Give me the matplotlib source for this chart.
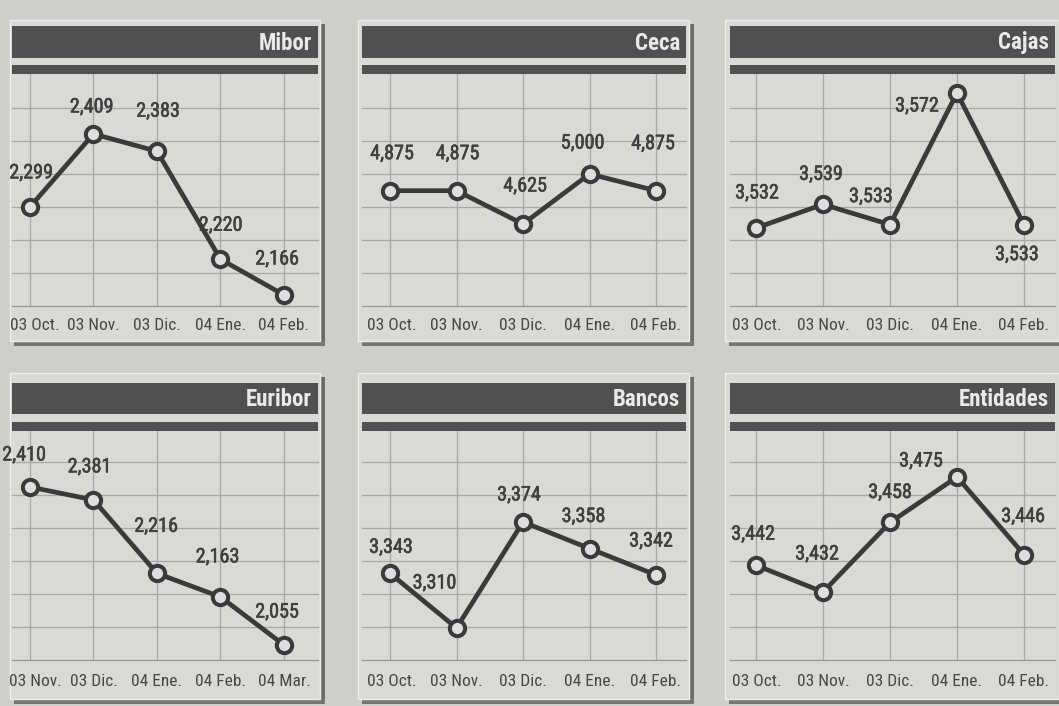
import matplotlib
matplotlib.use("Agg")
import matplotlib.pyplot as plt
from matplotlib.patches import Rectangle
import matplotlib.patheffects as pe
import numpy as np

# ---------------- data ----------------
titles = ["Mibor", "Ceca", "Cajas", "Euribor", "Bancos", "Entidades"]
months_a = ["03 Oct.", "03 Nov.", "03 Dic.", "04 Ene.", "04 Feb."]
months_b = ["03 Nov.", "03 Dic.", "04 Ene.", "04 Feb.", "04 Mar."]
mibor = [2.299, 2.409, 2.383, 2.220, 2.166]
ceca = [4.875, 4.875, 4.625, 5.000, 4.875]
cajas = [3.532, 3.539, 3.533, 3.572, 3.533]
euribor = [2.410, 2.381, 2.216, 2.163, 2.055]
bancos = [3.343, 3.310, 3.374, 3.358, 3.342]
entidades = [3.442, 3.432, 3.458, 3.475, 3.446]

series = [mibor, ceca, cajas, euribor, bancos, entidades]
xlabels = [months_a, months_a, months_a, months_b, months_a, months_a]

# ---------------- layout (pixels) ----------------
W, H = 1059, 706
fig = plt.figure(figsize=(W / 100, H / 100), dpi=100)
fig.patch.set_facecolor("#cfcfc9")

FONT = ["Liberation Sans Narrow", "Roboto Condensed", "Liberation Sans", "DejaVu Sans"]

col_outer = [(10, 310), (358, 331), (725, 334)]
bar_x = [(12, 318), (362, 686), (730, 1055)]
x0_step = [(30, 63.5), (390, 66.5), (756, 67)]
first_label_shift = [5, 2, 1]
row_outer = [(20, 321), (373, 326)]
title_bar = [(26, 58), (383, 414)]
thin_bar = [(65, 74), (422, 431)]
ax_y = [(74, 306), (431, 660)]
tick_gap = [19, 22]
# pixel rows of max and min marker in each panel
max_min_px = [(134, 295), (174, 224), (93, 228), (487, 645), (522, 628), (477, 592)]

# label offsets in pixels (dx, dy up)
offsets = [
    [(1, 34), (-2, 27), (1, 40), (0, 34), (-7, 36)],
    [(2, 37), (1, 37), (2, 38), (-7, 31), (-3, 47)],
    [(1, 35), (-2, 30), (-19, 28), (-40, -13), (-7, -30)],
    [(-6, 32), (-4, 33), (-1, 47), (-3, 40), (-7, 33)],
    [(1, 26), (-22, 45), (-4, 27), (-6, 32), (-5, 34)],
    [(-3, 31), (-6, 38), (0, 30), (-36, 16), (-1, 38)],
]


def frect(x, y, w, h):
    return [x / W, 1 - (y + h) / H, w / W, h / H]


def add_rect(x, y, w, h, color, z=0, ec="none", lw=0):
    r = Rectangle((x / W, 1 - (y + h) / H), w / W, h / H, transform=fig.transFigure,
                  facecolor=color, edgecolor=ec, linewidth=lw, zorder=z)
    fig.add_artist(r)


LINE = "#3a3a3a"
BAR = "#505050"
GRID = "#a8a8a3"
VAL_C = "#404040"
TICK_C = "#474747"

for i in range(6):
    r, c = divmod(i, 3)
    ox, ow = col_outer[c]
    oy, oh = row_outer[r]
    # shadow
    add_rect(ox + ow, oy + 4, 5, oh, "#6c6c69", z=-3)
    add_rect(ox + 4, oy + oh, ow + 1, 5, "#767673", z=-3)
    # panel
    add_rect(ox, oy, ow, oh, "#dadad5", z=-2, ec="#eeeeea", lw=1.0)
    # title bar
    bx0, bx1 = bar_x[c]
    ty0, ty1 = title_bar[r]
    add_rect(bx0, ty0, bx1 - bx0, ty1 - ty0, BAR, z=-1)
    fig.text((bx1 - 6) / W, 1 - ((ty0 + ty1) / 2 + 1) / H, titles[i], ha="right", va="center",
             color="#e9e9e6", fontsize=16.5, fontweight="bold", family=FONT, zorder=5)
    # thin bar
    hy0, hy1 = thin_bar[r]
    add_rect(bx0, hy0, bx1 - bx0, hy1 - hy0, BAR, z=-1)

    # axes
    ay0, ay1 = ax_y[r]
    ax = fig.add_axes(frect(bx0, ay0, bx1 - bx0, ay1 - ay0))
    ax.set_zorder(2)
    ax.set_facecolor("none")
    for s in ax.spines.values():
        s.set_visible(False)
    px0, step = x0_step[c]
    ax.set_xlim((bx0 - px0) / step, (bx1 - px0) / step)

    vals = series[i]
    vmax, vmin = max(vals), min(vals)
    pmax, pmin = max_min_px[i]
    upp = (vmax - vmin) / (pmin - pmax)
    ax.set_ylim(vmin - (ay1 - pmin) * upp, vmax + (pmax - ay0) * upp)
    ax.set_xticks([])
    ax.set_yticks([])

    # grid
    for k in range(5):
        ax.axvline(k, color=GRID, lw=0.9, zorder=1)
    hgt = ay1 - ay0
    for k in range(7):
        f = k * 33 / hgt
        ax.plot([0, 1], [f, f], transform=ax.transAxes, color=GRID if k else "#999994",
                lw=0.9, zorder=1, clip_on=False)

    xs = np.arange(len(vals))
    ax.plot(xs, vals, color=LINE, lw=3.4, zorder=3, solid_joinstyle="round")
    ax.plot(xs, vals, "o", ms=11, mfc="#dedede", mec=LINE, mew=2.9, zorder=4, linestyle="none")

    for k, v in enumerate(vals):
        dx, dy = offsets[i][k]
        ax.annotate(f"{v:.3f}".replace(".", ","), (k, v), xytext=(dx, dy),
                    textcoords="offset pixels", ha="center", va="center",
                    fontsize=14.5, color=VAL_C, family=FONT, zorder=5,
                    annotation_clip=False,
                    path_effects=[pe.withStroke(linewidth=0.4, foreground=VAL_C)])

    for k, lab in enumerate(xlabels[i]):
        sx = first_label_shift[c] if k == 0 else 0
        ax.annotate(lab, (k, 0), xycoords=("data", "axes fraction"), xytext=(sx, -tick_gap[r]),
                    textcoords="offset pixels", ha="center", va="center",
                    fontsize=12.5, color=TICK_C, family=FONT, annotation_clip=False)

fig.savefig("out.png", dpi=100, facecolor=fig.get_facecolor())
